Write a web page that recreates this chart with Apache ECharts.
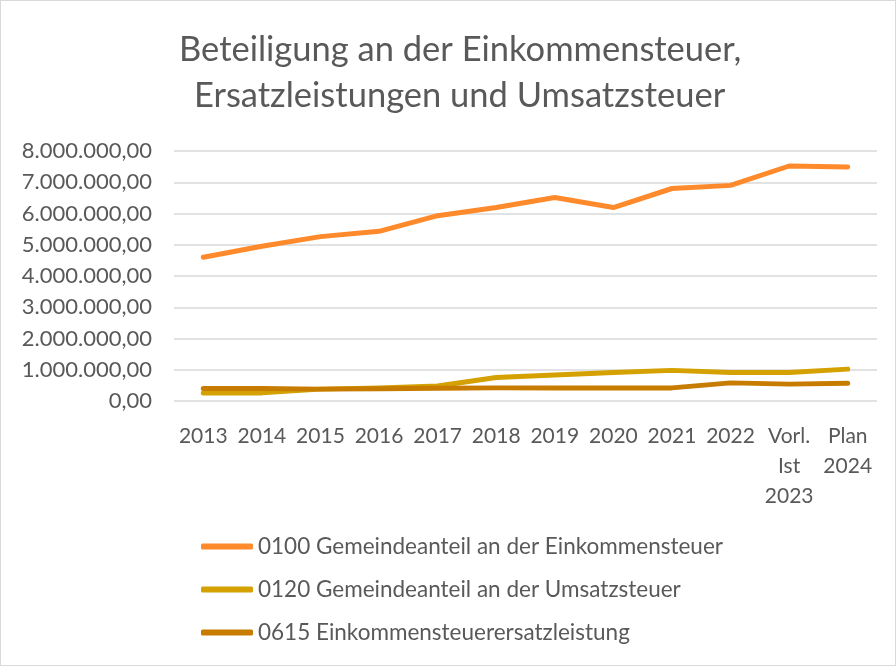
<!DOCTYPE html>
<html>
<head>
<meta charset="utf-8">
<script src="https://cdn.jsdelivr.net/npm/echarts@6/dist/echarts.min.js"></script>
<style>
  html, body { margin: 0; padding: 0; background: #fff; }
  #chart { width: 896px; height: 666px; box-sizing: border-box; border: 1px solid #d9d9d9; }
</style>
</head>
<body>
<div id="chart"></div>
<script>
const years = ["2013", "2014", "2015", "2016", "2017", "2018", "2019", "2020", "2021", "2022", "Vorl.\nIst\n2023", "Plan\n2024"];
// Werte in Euro
const einkommensteuer = [4600000, 4950000, 5260000, 5430000, 5930000, 6190000, 6510000, 6190000, 6800000, 6900000, 7520000, 7490000];
const umsatzsteuer = [260000, 260000, 380000, 420000, 480000, 750000, 830000, 910000, 980000, 910000, 910000, 1020000];
const ersatzleistung = [400000, 400000, 380000, 390000, 410000, 420000, 420000, 420000, 420000, 580000, 540000, 570000];
const seriesNames = [
  "0100 Gemeindeanteil an der Einkommensteuer",
  "0120 Gemeindeanteil an der Umsatzsteuer",
  "0615 Einkommensteuerersatzleistung"
];
const titleLines = ["Beteiligung an der Einkommensteuer,", "Ersatzleistungen und Umsatzsteuer"];
const colors = ["#FF8A2B", "#D4A100", "#C77C00"];

const fmt = (v) => {
  // deutsches Zahlenformat 8.000.000,00
  const s = Math.round(v).toString().replace(/\B(?=(\d{3})+(?!\d))/g, ".");
  return s + ",00";
};

const chart = echarts.init(document.getElementById("chart"));
const font = "Lato, 'Open Sans', sans-serif";
const titleStyle = { fontFamily: font, fontSize: 34.5, fontWeight: "normal", color: "#595959" };

const mkLine = (name, data, color) => ({
  name: name,
  type: "line",
  data: data,
  symbol: "none",
  lineStyle: { width: 5, color: color, cap: "round", join: "round" },
  itemStyle: { color: color }
});

chart.setOption({
  animation: false,
  color: colors,
  // zwei Titelzeilen, leicht rechts von der Mitte wie im Original
  title: [
    { text: titleLines[0], left: 173, top: 26, textStyle: titleStyle },
    { text: titleLines[1], left: 188, top: 72, textStyle: titleStyle }
  ],
  grid: { left: 173, right: 18, top: 150, bottom: 264 },
  xAxis: {
    type: "category",
    data: years,
    boundaryGap: true,
    axisLine: { show: false },
    axisTick: { show: false },
    axisLabel: { fontFamily: font, fontSize: 21, color: "#595959", margin: 20, lineHeight: 30, interval: 0 }
  },
  yAxis: {
    type: "value",
    min: 0,
    max: 8000000,
    interval: 1000000,
    axisLine: { show: false },
    axisTick: { show: false },
    splitLine: { lineStyle: { color: "#d9d9d9", width: 1.5 } },
    axisLabel: { fontFamily: font, fontSize: 22, color: "#595959", margin: 22, formatter: fmt }
  },
  legend: {
    orient: "vertical",
    left: 195,
    top: 529,
    itemWidth: 52,
    itemHeight: 6,
    itemGap: 20,
    itemTextGap: 5,
    icon: "roundRect",
    textStyle: { fontFamily: font, fontSize: 22.5, color: "#595959" },
    data: seriesNames
  },
  series: [
    mkLine(seriesNames[0], einkommensteuer, colors[0]),
    mkLine(seriesNames[1], umsatzsteuer, colors[1]),
    mkLine(seriesNames[2], ersatzleistung, colors[2])
  ]
});
</script>
</body>
</html>
